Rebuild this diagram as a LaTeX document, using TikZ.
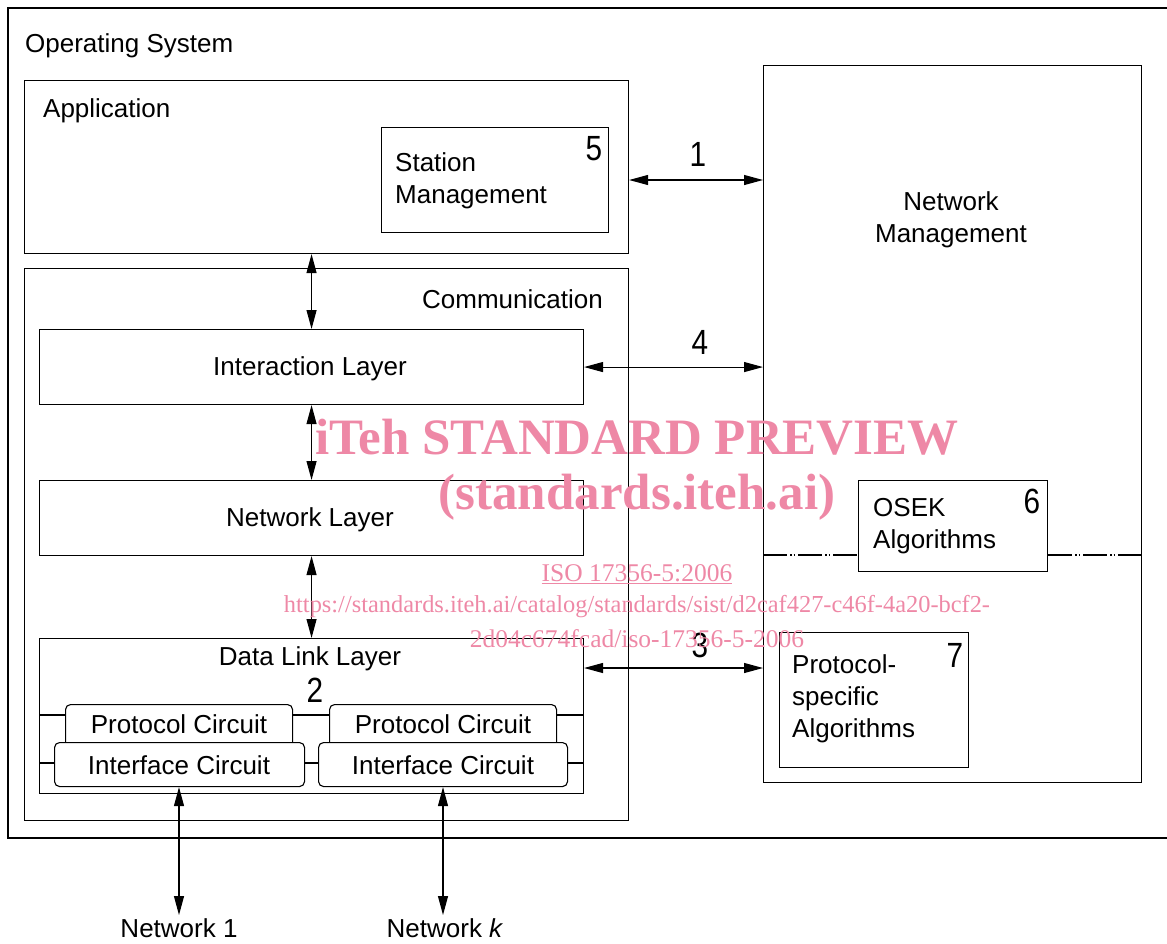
\documentclass[tikz,border=0pt]{standalone}
\usepackage{fontspec}
\setmainfont{Liberation Sans}
\newfontfamily\wmfont{Liberation Serif}
\usetikzlibrary{arrows.meta}
\definecolor{wm}{RGB}{238,136,166}
\begin{document}
\begin{tikzpicture}[x=1pt,y=-1pt,
 box/.style={draw, line width=1.1pt, inner sep=0pt, anchor=north west},
 rbox/.style={box, rounded corners=5pt, fill=white},
 txt/.style={inner sep=0pt, yshift=-2.5pt, font=\fontsize{26}{32}\selectfont},
 mtxt/.style={txt, align=left, anchor=north west},
 num/.style={inner sep=0pt, font=\fontsize{35}{40}\selectfont},
 dbl/.style={line width=1.1pt, {Triangle[length=19pt,width=10pt]}-{Triangle[length=19pt,width=10pt]}},
 ln/.style={line width=1.1pt},
 phantom/.style={ln, dash pattern=on 24pt off 3pt on 1.5pt off 2pt on 1.5pt off 3pt},
 wmbig/.style={inner sep=0pt, text=wm, font=\wmfont\bfseries\fontsize{51}{56}\selectfont},
 wmsmall/.style={inner sep=0pt, text=wm, font=\wmfont\fontsize{25.5}{30}\selectfont}]
\useasboundingbox (0,0) rectangle (1167,943);
% outer operating system frame (cut off at right)
\coordinate (osTR) at (1167,8);
\coordinate (osBR) at (1167,838);
\draw[ln] (osTR) -- (8,8) -- (8,838) -- (osBR);
\node[txt, anchor=west] (ost) at (25,43) {Operating System};
% boxes
\node[box, minimum width=604, minimum height=173] (app) at (24,80) {};
\node[txt, anchor=west] (appt) at (43,108) {Application};
\node[box, minimum width=227, minimum height=105] (sm) at (381,127) {};
\node[mtxt] (smt) at (395,150) {Station\\Management};
\node[box, minimum width=378, minimum height=717] (nm) at (763,65) {};
\node[txt, align=center] (nmt) at (951,217) {Network\\Management};
\node[box, minimum width=604, minimum height=552] (com) at (24,268) {};
\node[txt, anchor=east] (comt) at (603,297) {Communication};
\node[box, minimum width=544, minimum height=75] (il) at (39,329) {};
\node[txt] (ilt) at (310,366) {Interaction Layer};
\node[box, minimum width=544, minimum height=75] (nl) at (39,480) {};
\node[txt] (nlt) at (310,517) {Network Layer};
\node[box, minimum width=544, minimum height=155] (dl) at (39,638) {};
\node[txt] (dlt) at (310,656) {Data Link Layer};
\draw[ln] (dl.west |- 0,715) -- (dl.east |- 0,715);
\draw[ln] (dl.west |- 0,763) -- (dl.east |- 0,763);
\node[rbox, minimum width=227, minimum height=46] (pc1) at (65,704) {};
\node[rbox, minimum width=227, minimum height=46] (pc2) at (329,704) {};
\node[rbox, minimum width=250, minimum height=44] (ic1) at (54,742) {};
\node[rbox, minimum width=249, minimum height=44] (ic2) at (318,742) {};
\node[txt] (pc1t) at (179,722) {Protocol Circuit};
\node[txt] (pc2t) at (443,722) {Protocol Circuit};
\node[txt] (ic1t) at (179,763) {Interface Circuit};
\node[txt] (ic2t) at (443,763) {Interface Circuit};
\node[box, minimum width=189, minimum height=91] (osek) at (858,480) {};
\node[mtxt] (osekt) at (873,496) {OSEK\\Algorithms};
\node[box, minimum width=189, minimum height=135] (psa) at (779,632) {};
\node[mtxt] (psat) at (792,652) {Protocol-\\specific\\Algorithms};
\draw[phantom] (nm.west |- 0,555) -- (osek.west |- 0,555);
\draw[phantom] (osek.east |- 0,555) -- (nm.east |- 0,555);
% numbers
\node[num] (n1) at (698,154) {\scalebox{0.85}[1]{1}};
\node[num] (n4) at (700,342) {\scalebox{0.85}[1]{4}};
\node[num] (n3) at (700,645) {\scalebox{0.85}[1]{3}};
\node[num] (n2) at (315,690) {\scalebox{0.85}[1]{2}};
\node[num] (n5) at (594,149) {\scalebox{0.85}[1]{5}};
\node[num] (n6) at (1032,501) {\scalebox{0.85}[1]{6}};
\node[num] (n7) at (955,655) {\scalebox{0.85}[1]{7}};
% connectors
\draw[dbl] (app.east |- 0,180) -- (nm.west |- 0,180);
\draw[dbl] (app.south -| il.north) -- (il.north);
\draw[dbl] (il.south) -- (nl.north);
\draw[dbl] (nl.south) -- (dl.north);
\draw[dbl] (il.east) -- (nm.west |- il.east);
\draw[dbl] (dl.east |- 0,668) -- (nm.west |- 0,668);
\coordinate (net1c) at (179,915);
\coordinate (netkc) at (443,915);
\draw[dbl] (ic1.south -| net1c) -- (net1c);
\draw[dbl] (ic2.south -| netkc) -- (netkc);
\node[txt] (net1) at (179,926) {Network 1};
\node[txt] (netk) at (445,926) {Network \textit{k}};
% watermark
\node[wmbig] (wm1) at (637,437) {iTeh STANDARD PREVIEW};
\node[wmbig] (wm2) at (637,497) {(standards.iteh.ai)};
\node[wmsmall] (wm3) at (637,574) {\underline{ISO 17356-5:2006}};
\node[wmsmall, font=\wmfont\fontsize{24.4}{30}\selectfont] (wm4) at (637,607) {https://standards.iteh.ai/catalog/standards/sist/d2caf427-c46f-4a20-bcf2-};
\node[wmsmall] (wm5) at (637,639) {2d04c674fcad/iso-17356-5-2006};
\end{tikzpicture}
\end{document}
